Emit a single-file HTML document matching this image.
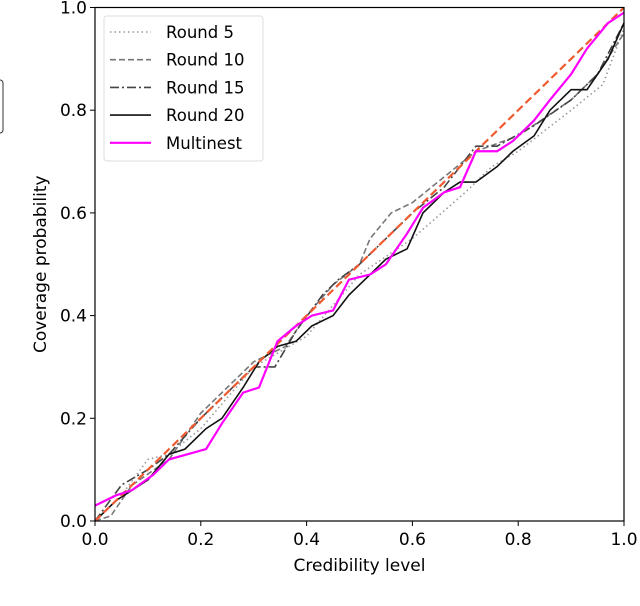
<!DOCTYPE html>
<html><head><meta charset="utf-8"><style>
body{margin:0;background:#fff;}
svg{display:block;font-family:"DejaVu Sans","Liberation Sans",sans-serif;}
</style></head><body>
<svg id="chart" width="640" height="606">
<rect x="-6" y="80" width="9" height="53" rx="3" fill="none" stroke="#333" stroke-width="1"/>
<g id="plot"></g>
</svg>
<script>
const xs_multinest=[0,0.04,0.07,0.11,0.14,0.21,0.24,0.28,0.31,0.345,0.38,0.41,0.45,0.48,0.52,0.55,0.59,0.62,0.66,0.69,0.72,0.76,0.79,0.83,0.86,0.9,0.93,0.97,1];
const ys_multinest=[0.03,0.05,0.06,0.09,0.12,0.14,0.19,0.25,0.26,0.35,0.38,0.40,0.41,0.47,0.48,0.50,0.56,0.61,0.64,0.65,0.72,0.72,0.74,0.78,0.82,0.87,0.92,0.97,0.99];
const xs_r20=[0,0.04,0.07,0.1,0.14,0.17,0.21,0.24,0.28,0.31,0.345,0.38,0.41,0.45,0.48,0.52,0.55,0.59,0.62,0.66,0.69,0.72,0.76,0.79,0.83,0.86,0.9,0.93,0.97,1];
const ys_r20=[0,0.04,0.06,0.08,0.13,0.14,0.18,0.2,0.26,0.31,0.34,0.35,0.38,0.40,0.44,0.48,0.51,0.53,0.60,0.64,0.66,0.66,0.69,0.72,0.75,0.80,0.84,0.84,0.9,0.97];
const xs_r15=[0,0.05,0.1,0.14,0.2,0.3,0.34,0.38,0.43,0.46,0.5,0.55,0.6,0.66,0.72,0.76,0.83,0.9,0.95,1];
const ys_r15=[0,0.07,0.1,0.13,0.2,0.3,0.30,0.37,0.44,0.47,0.5,0.55,0.6,0.65,0.73,0.73,0.77,0.82,0.87,0.97];
const xs_r10=[0,0.03,0.07,0.14,0.2,0.3,0.36,0.4,0.45,0.5,0.52,0.56,0.6,0.66,0.72,0.8,0.9,0.95,1];
const ys_r10=[0,0.01,0.07,0.12,0.21,0.31,0.34,0.40,0.46,0.5,0.55,0.60,0.62,0.67,0.72,0.75,0.82,0.87,0.95];
const xs_r5=[0,0.05,0.1,0.14,0.2,0.3,0.4,0.5,0.6,0.7,0.75,0.8,0.9,0.96,1];
const ys_r5=[0,0.05,0.12,0.13,0.18,0.3,0.36,0.48,0.55,0.64,0.69,0.72,0.8,0.85,0.96];
const xs_diag=[0,1];
const ys_diag=[0,1];
const ticks=[0,0.2,0.4,0.6,0.8,1.0];
const tickLabels=["0.0","0.2","0.4","0.6","0.8","1.0"];
const legendNames=["Round 5","Round 10","Round 15","Round 20","Multinest"];

const X0=95,X1=624,Y0=521,Y1=7.5;
const sx=v=>X0+(X1-X0)*v, sy=v=>Y0-(Y0-Y1)*v;
const NS="http://www.w3.org/2000/svg";
const g=document.getElementById('plot');
function mk(tag,attrs,parent){const e=document.createElementNS(NS,tag);for(const k in attrs)e.setAttribute(k,attrs[k]);(parent||g).appendChild(e);return e;}
function series(xs,ys,style,name){
  const p=mk('polyline',Object.assign({fill:'none',points:xs.map((x,i)=>sx(x)+','+sy(ys[i])).join(' ')},style));
  
  
}
series(xs_r5,ys_r5,{stroke:'#999','stroke-width':1.6,'stroke-dasharray':'1.5 3'},'round-5-line');
series(xs_r10,ys_r10,{stroke:'#777','stroke-width':1.6,'stroke-dasharray':'6 3'},'round-10-line');
series(xs_r15,ys_r15,{stroke:'#444','stroke-width':1.6,'stroke-dasharray':'9 3 2 3'},'round-15-line');
series(xs_r20,ys_r20,{stroke:'#111','stroke-width':1.6},'round-20-line');
series(xs_diag,ys_diag,{stroke:'#f05a30','stroke-width':2.2,'stroke-dasharray':'8 4'},'diagonal-reference-line');
series(xs_multinest,ys_multinest,{stroke:'#ff00ff','stroke-width':2.2},'multinest-line');

const frame=mk('rect',{x:X0,y:Y1,width:X1-X0,height:Y0-Y1,fill:'none',stroke:'#000','stroke-width':1.2});


ticks.forEach((t,i)=>{
  const a=mk('line',{x1:sx(t),x2:sx(t),y1:Y0,y2:Y0+5,stroke:'#000'});
  
  
  const tx=mk('text',{x:sx(t),y:Y0+24,'text-anchor':'middle','font-size':17});
  tx.textContent=tickLabels[i];
  
  
  const b=mk('line',{x1:X0-5,x2:X0,y1:sy(t),y2:sy(t),stroke:'#000'});
  
  
  const ty=mk('text',{x:X0-8,y:sy(t)+6,'text-anchor':'end','font-size':17});
  ty.textContent=tickLabels[i];
  
  
});
const xl=mk('text',{x:(X0+X1)/2,y:571,'text-anchor':'middle','font-size':17});
xl.textContent='Credibility level';


const yl=mk('text',{x:0,y:0,'text-anchor':'middle','font-size':17,transform:`translate(46,${(Y0+Y1)/2}) rotate(-90)`});
yl.textContent='Coverage probability';



const lg=mk('g',{});


mk('rect',{x:104,y:16,width:159,height:145,rx:3,fill:'#fff','fill-opacity':0.85,stroke:'#ddd'},lg);
const lstyles=[{stroke:'#999','stroke-width':1.6,'stroke-dasharray':'1.5 3'},{stroke:'#777','stroke-width':1.6,'stroke-dasharray':'6 3'},{stroke:'#444','stroke-width':1.6,'stroke-dasharray':'9 3 2 3'},{stroke:'#111','stroke-width':1.6},{stroke:'#ff00ff','stroke-width':2.2}];
legendNames.forEach((n,i)=>{
  const y=32+i*27.7;
  const e=mk('g',{},lg);
  
  
  mk('line',Object.assign({x1:110,x2:151,y1:y,y2:y},lstyles[i]),e);
  const t=mk('text',{x:166,y:y+6,'font-size':16.5},e);
  t.textContent=n;
});
</script>
</body></html>
